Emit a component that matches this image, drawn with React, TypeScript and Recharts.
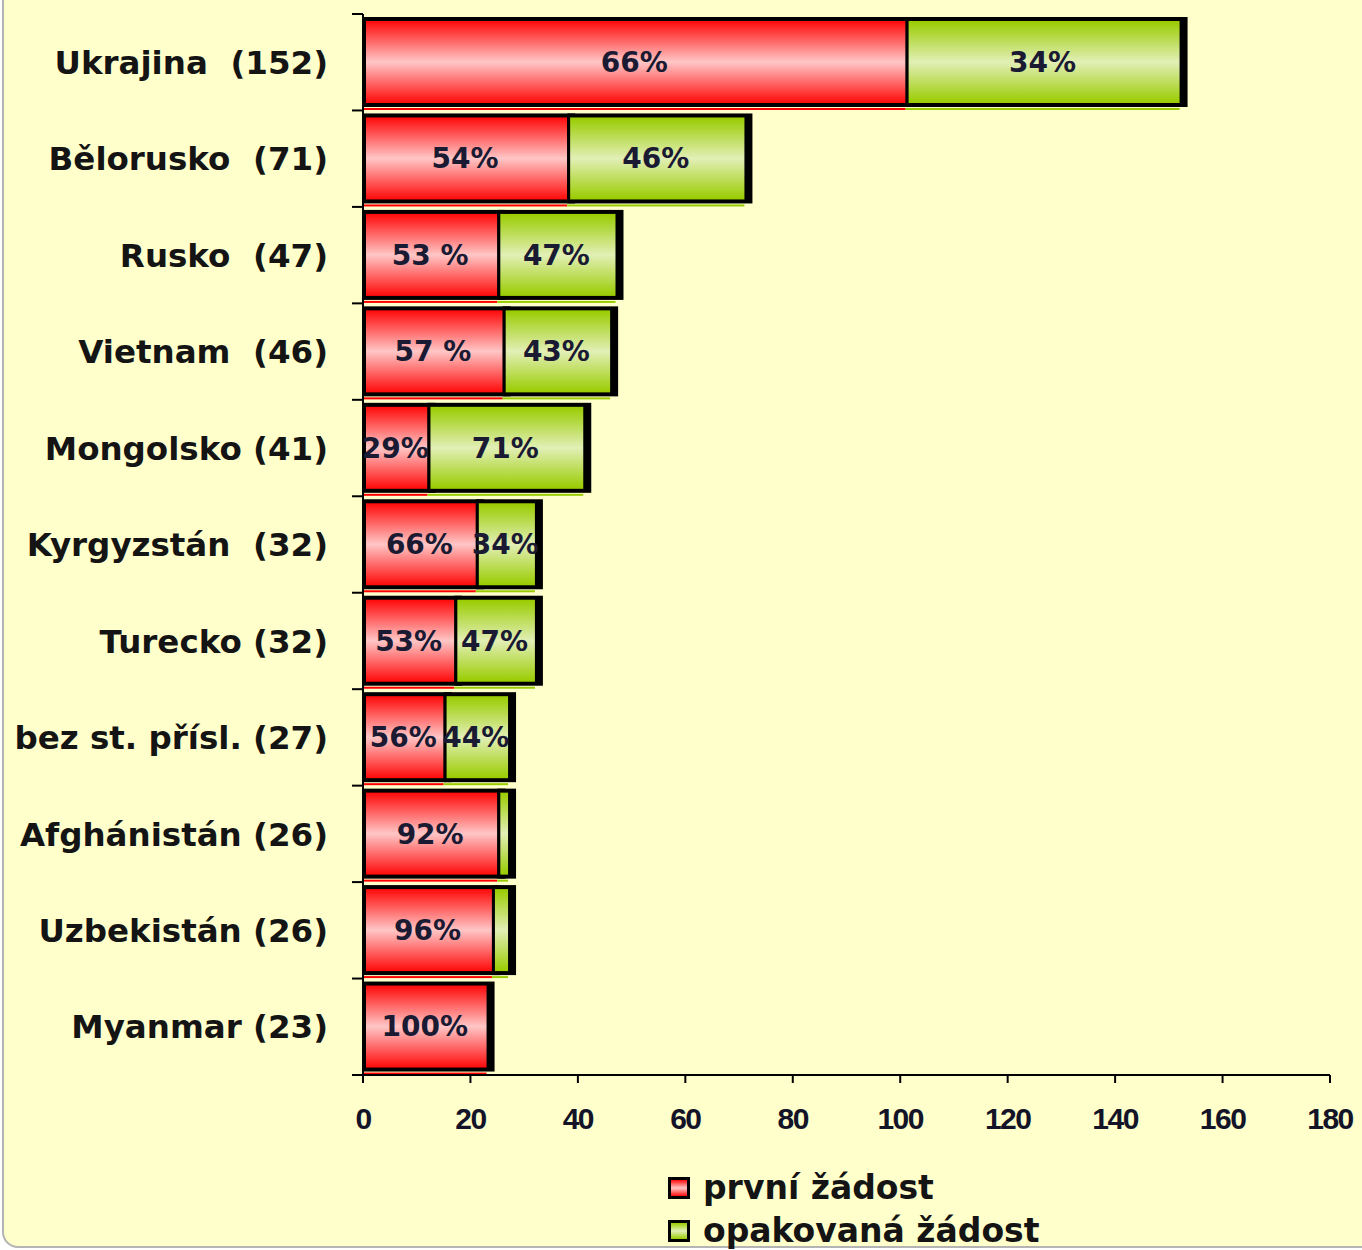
import { BarChart, Bar, XAxis, YAxis, LabelList } from 'recharts';

// kategorie (státy) s celkovým počtem žádostí
const countries = [
    'Ukrajina  (152)',
    'Bělorusko  (71)',
    'Rusko  (47)',
    'Vietnam  (46)',
    'Mongolsko (41)',
    'Kyrgyzstán  (32)',
    'Turecko (32)',
    'bez st. přísl. (27)',
    'Afghánistán (26)',
    'Uzbekistán (26)',
    'Myanmar (23)',
];

// počty odečtené z délky pruhů
const firstRequest = [101, 38, 25, 26, 12, 21, 17, 15, 25, 24, 23];
const repeatRequest = [51, 33, 22, 20, 29, 11, 15, 12, 2, 3, 0];

// popisky procent uvnitř pruhů
const firstLabels = ['66%', '54%', '53 %', '57 %', '29%', '66%', '53%', '56%', '92%', '96%', '100%'];
const repeatLabels = ['34%', '46%', '47%', '43%', '71%', '34%', '47%', '44%', '', '', ''];

const xTicks = [0, 20, 40, 60, 80, 100, 120, 140, 160, 180];

const data = countries.map((name, i) => ({
    name,
    first: firstRequest[i],
    repeat: repeatRequest[i],
    firstLabel: firstLabels[i],
    repeatLabel: repeatLabels[i],
}));

const Segment = (props: any) => {
    const { x, y, width, height, grad, floor } = props;
    if (!width || width <= 0) return null;
    return (
        <g>
            <rect x={x} y={y} width={width + 8} height={height} fill="#000" />
            <rect x={x + 3} y={y + 4} width={Math.max(width - 3, 1)} height={height - 8} fill={`url(#${grad})`} />
            <rect x={x} y={y + height + 1} width={width} height={2} fill={floor} />
        </g>
    );
};

const CountryTick = (props: any) => {
    const { x, y, payload, index, visibleTicksCount } = props;
    const half = payload && payload.offset ? payload.offset : 48.2;
    const isLast = index === (visibleTicksCount ?? countries.length) - 1;
    return (
        <g>
            <line x1={x + 24} x2={x + 35} y1={y - half} y2={y - half} stroke="#000" strokeWidth={2} />
            {isLast && <line x1={x + 24} x2={x + 35} y1={y + half} y2={y + half} stroke="#000" strokeWidth={2} />}
            <text
                x={x}
                y={y}
                dy="0.36em"
                textAnchor="end"
                fontFamily="DejaVu Sans"
                fontWeight="bold"
                fontSize={32.5}
                fill="#141414"
                style={{ whiteSpace: 'pre' }}
            >
                {payload.value}
            </text>
        </g>
    );
};

const LegendBox = ({ from, mid }: { from: string; mid: string }) => (
    <div
        style={{
            width: 16,
            height: 16,
            border: '3px solid #000',
            background: `linear-gradient(${from}, ${mid}, ${from})`,
            marginRight: 13,
        }}
    />
);

export default function App() {
    return (
        <div style={{ position: 'absolute', left: 0, top: 0, width: 1362, height: 1250, overflow: 'hidden' }}>
            <div
                style={{
                    position: 'absolute',
                    left: 2,
                    top: -30,
                    width: 1420,
                    height: 1278,
                    boxSizing: 'border-box',
                    border: '2px solid #b4b4b4',
                    borderRadius: 16,
                    background: '#FFFFCC',
                }}
            />
            <div style={{ position: 'absolute', left: 0, top: 0 }}>
                <BarChart
                    width={1362}
                    height={1250}
                    data={data}
                    layout="vertical"
                    barCategoryGap={3}
                    margin={{ top: 14, right: 32, bottom: 115, left: 0 }}
                >
                    <defs>
                        <linearGradient id="redGrad" x1="0" y1="0" x2="0" y2="1">
                            <stop offset="0%" stopColor="#ff0a0a" />
                            <stop offset="50%" stopColor="#ffc6c6" />
                            <stop offset="100%" stopColor="#ff0a0a" />
                        </linearGradient>
                        <linearGradient id="greenGrad" x1="0" y1="0" x2="0" y2="1">
                            <stop offset="0%" stopColor="#99cc00" />
                            <stop offset="50%" stopColor="#e2efb6" />
                            <stop offset="100%" stopColor="#99cc00" />
                        </linearGradient>
                    </defs>
                    <XAxis
                        type="number"
                        domain={[0, 180]}
                        ticks={xTicks}
                        height={60}
                        tickSize={8}
                        tickMargin={25}
                        axisLine={{ stroke: '#000', strokeWidth: 2 }}
                        tickLine={{ stroke: '#000', strokeWidth: 2 }}
                        tick={{ fontFamily: 'Liberation Sans', fontWeight: 'bold', fontSize: 30, fill: '#141428', letterSpacing: -1.5 }}
                    />
                    <YAxis
                        type="category"
                        dataKey="name"
                        width={363}
                        tickSize={11}
                        tickMargin={24}
                        tickLine={false}
                        interval={0}
                        axisLine={{ stroke: '#000', strokeWidth: 2 }}
                        tick={<CountryTick />}
                    />
                    <Bar
                        dataKey="first"
                        stackId="a"
                        isAnimationActive={false}
                        shape={(p: any) => <Segment {...p} grad="redGrad" floor="#ff0000" />}
                    >
                        <LabelList
                            dataKey="firstLabel"
                            position="center"
                            fill="#1a1a33"
                            fontSize={28}
                            fontWeight="bold"
                            fontFamily="DejaVu Sans"
                        />
                    </Bar>
                    <Bar
                        dataKey="repeat"
                        stackId="a"
                        isAnimationActive={false}
                        shape={(p: any) => <Segment {...p} grad="greenGrad" floor="#99cc00" />}
                    >
                        <LabelList
                            dataKey="repeatLabel"
                            position="center"
                            fill="#1a1a33"
                            fontSize={28}
                            fontWeight="bold"
                            fontFamily="DejaVu Sans"
                        />
                    </Bar>
                </BarChart>
            </div>
            <div
                style={{
                    position: 'absolute',
                    left: 668,
                    top: 1166,
                    fontFamily: 'DejaVu Sans',
                    fontWeight: 'bold',
                    fontSize: 33,
                    color: '#141414',
                }}
            >
                <div style={{ display: 'flex', alignItems: 'center', height: 43 }}>
                    <LegendBox from="#ff0a0a" mid="#ffc6c6" />
                    <span>první žádost</span>
                </div>
                <div style={{ display: 'flex', alignItems: 'center', height: 43 }}>
                    <LegendBox from="#99cc00" mid="#e2efb6" />
                    <span>opakovaná žádost</span>
                </div>
            </div>
        </div>
    );
}
